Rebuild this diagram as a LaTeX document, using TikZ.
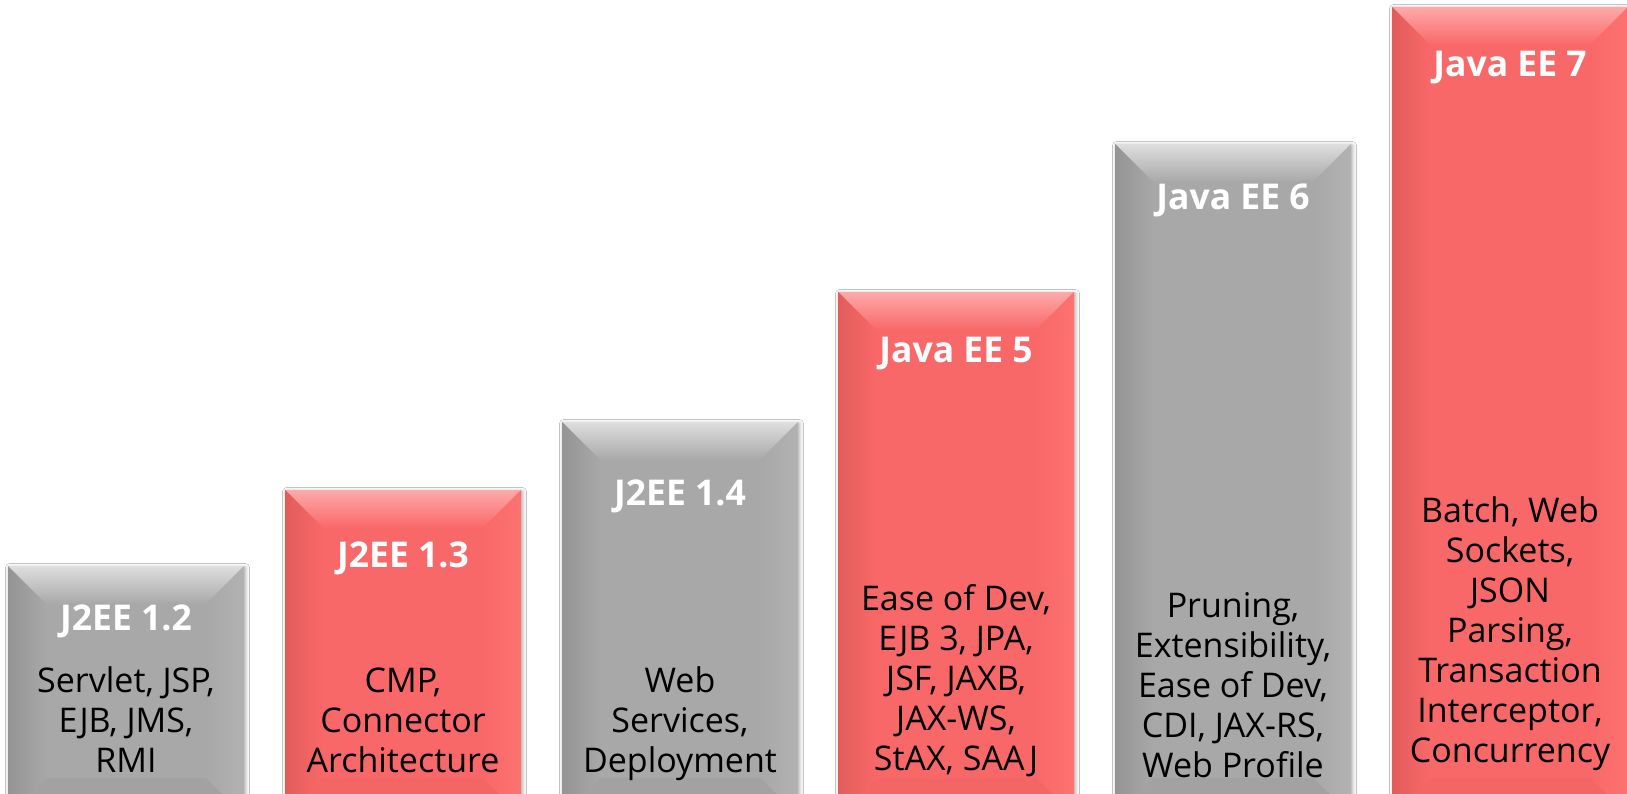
\documentclass[tikz,border=0pt]{standalone}
\usepackage{fontspec}
\setmainfont{Open Sans}
\usetikzlibrary{shadows.blur}
\definecolor{redmain}{RGB}{249,104,104}
\definecolor{redtop}{RGB}{253,170,170}
\definecolor{redleft}{RGB}{226,92,92}
\definecolor{redright}{RGB}{253,114,114}
\definecolor{redbot}{RGB}{244,102,102}
\definecolor{graymain}{RGB}{168,168,168}
\definecolor{graytop}{RGB}{222,222,222}
\definecolor{grayleft}{RGB}{148,148,148}
\definecolor{grayright}{RGB}{178,178,178}
\definecolor{graybot}{RGB}{162,162,162}
\newcommand{\jbar}[3]{%
  \pgfmathsetmacro\jbL{#1}%
  \pgfmathsetmacro\jbR{#1+236}%
  \pgfmathsetmacro\jbT{#2}%
  \pgfmathsetmacro\jbLi{#1+38}%
  \pgfmathsetmacro\jbRi{#1+236-38}%
  \pgfmathsetmacro\jbTi{#2+38}%
  \def\jbB{816}%
  \def\jbBi{778}%
  \fill[#3main, blur shadow={shadow xshift=1.5pt, shadow yshift=-1.5pt, shadow blur radius=4pt, shadow opacity=35}] (\jbL,\jbT) rectangle (\jbR,\jbB);
  \shade[top color=#3top, bottom color=#3main] (\jbL,\jbT) -- (\jbR,\jbT) -- (\jbRi,\jbTi) -- (\jbLi,\jbTi) -- cycle;
  \shade[left color=#3left, right color=#3main] (\jbL,\jbT) -- (\jbLi,\jbTi) -- (\jbLi,\jbBi) -- (\jbL,\jbB) -- cycle;
  \shade[left color=#3main, right color=#3right] (\jbR,\jbT) -- (\jbRi,\jbTi) -- (\jbRi,\jbBi) -- (\jbR,\jbB) -- cycle;
  \fill[#3bot] (\jbL,\jbB) -- (\jbLi,\jbBi) -- (\jbRi,\jbBi) -- (\jbR,\jbB) -- cycle;
}
\tikzset{
  title/.style={text=white, font=\fontsize{35.5}{40}\selectfont\bfseries, anchor=base, inner sep=0pt},
  body/.style={text=black, font=\fontsize{34}{40}\selectfont, align=center, anchor=base, inner sep=0pt}
}
\begin{document}
\begin{tikzpicture}[x=1pt,y=-1pt]
\useasboundingbox (0,0) rectangle (1627,794);
\fill[white] (0,0) rectangle (1627,794);
\clip (0,0) rectangle (1627,794);
\jbar{8}{566}{gray}
\jbar{285}{490}{red}
\jbar{562}{422}{gray}
\jbar{838}{292}{red}
\jbar{1115}{144}{gray}
\jbar{1392}{7}{red}
\node[title] (t1) at (126,630) {J2EE 1.2};
\node[title] (t2) at (403,567) {J2EE 1.3};
\node[title] (t3) at (680,505) {J2EE 1.4};
\node[title] (t4) at (956,362) {Java EE 5};
\node[title] (t5) at (1233,210) {Java EE 6};
\node[title] (t6) at (1510,77) {Java EE 7};
\node[body] (d1) at (126,772) {Servlet, JSP,\\EJB, JMS,\\RMI};
\node[body] (d2) at (403,772) {CMP,\\Connector\\Architecture};
\node[body] (d3) at (680,772) {Web\\Services,\\Deployment};
\node[body] (d4) at (956,770) {Ease of Dev,\\EJB 3, JPA,\\JSF, JAXB,\\JAX-WS,\\StAX, SAAJ};
\node[body] (d5) at (1233,777) {Pruning,\\Extensibility,\\Ease of Dev,\\CDI, JAX-RS,\\Web Profile};
\node[body] (d6) at (1510,762) {Batch, Web\\Sockets,\\JSON\\Parsing,\\Transaction\\Interceptor,\\Concurrency};
\end{tikzpicture}
\end{document}
